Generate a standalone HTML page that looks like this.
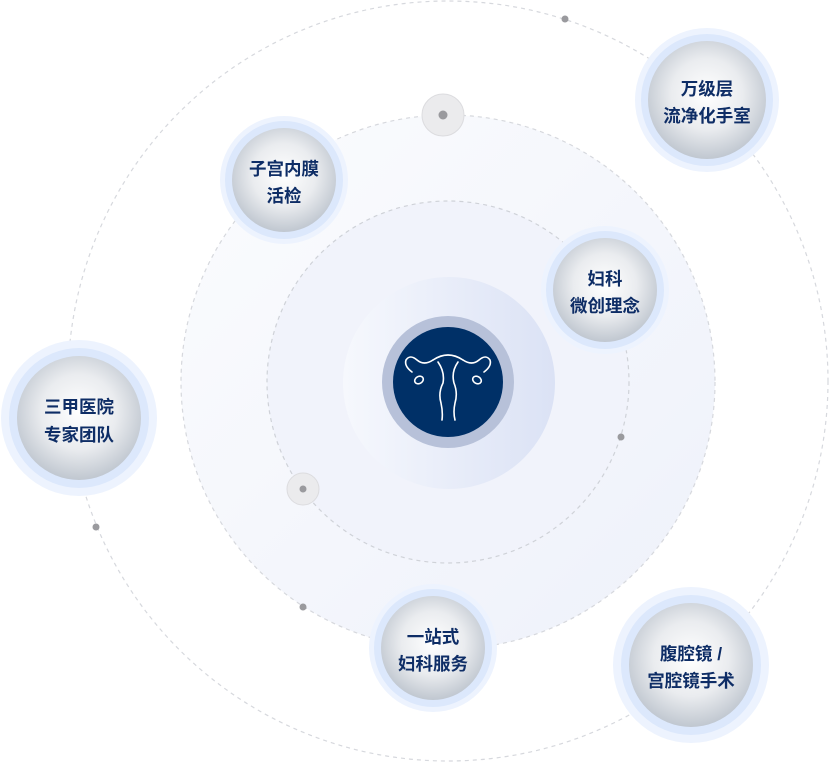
<!DOCTYPE html>
<html><head><meta charset="utf-8"><style>
html,body{margin:0;padding:0;background:#fff;width:831px;height:765px;overflow:hidden}
svg{display:block}
text{font-family:"Liberation Sans","Noto Sans CJK SC",sans-serif;font-weight:bold;font-size:17.5px;fill:#0e2d66;text-anchor:middle}
</style></head><body>
<svg width="831" height="765" viewBox="0 0 831 765">
<defs>
<radialGradient id="ball" cx="50%" cy="45%" r="55%">
<stop offset="0" stop-color="#ffffff"/><stop offset="0.55" stop-color="#eaecef"/><stop offset="1" stop-color="#c0c7d0"/>
</radialGradient>
<linearGradient id="glow" x1="0" x2="1" y1="0" y2="0">
<stop offset="0" stop-color="#f6f8fd"/><stop offset="1" stop-color="#dbe2f5"/>
</linearGradient>
<linearGradient id="mid" x1="0" x2="1" y1="0" y2="1">
<stop offset="0" stop-color="#fbfcfe"/><stop offset="1" stop-color="#eef1fa"/>
</linearGradient>
</defs>
<circle cx="448" cy="381" r="380" fill="none" stroke="#d6d8dd" stroke-width="1.2" stroke-dasharray="4 4"/>
<circle cx="448" cy="382" r="267" fill="url(#mid)" stroke="#d6d8dd" stroke-width="1.2" stroke-dasharray="4 4"/>
<circle cx="448" cy="382" r="181" fill="#f1f3fb" stroke="#cfd2d8" stroke-width="1.2" stroke-dasharray="4 4"/>
<circle cx="449" cy="383" r="106" fill="url(#glow)"/>
<circle cx="448" cy="382" r="66" fill="#b7c1d9"/>
<circle cx="448" cy="382" r="55" fill="#003067"/>
<g fill="none" stroke="#fff" stroke-width="1.6" stroke-linecap="round">
<path d="M433 360 Q448 350 463 360"/>
<path d="M433 360 Q424 366 417 360 Q410 354 406 360 Q404 366 412 372"/>
<path d="M463 360 Q472 366 479 360 Q486 354 490 360 Q492 366 484 372"/>
<ellipse cx="419" cy="380" rx="4.5" ry="3.5" transform="rotate(-30 419 380)"/>
<ellipse cx="477" cy="380" rx="4.5" ry="3.5" transform="rotate(30 477 380)"/>
<path d="M438 362 Q445 372 443 383 Q438 393 441 403 Q443 412 442 420"/>
<path d="M458 362 Q451 372 454 383 Q458 393 455 403 Q453 412 455 420"/>
</g>
<g fill="#ebebed" stroke="#dcdcdf"><circle cx="443" cy="115" r="21"/><circle cx="303" cy="489" r="16"/></g>
<g fill="#9a9a9e"><circle cx="443" cy="115" r="4.5"/><circle cx="303" cy="489" r="3.5"/>
<circle cx="565" cy="19" r="3.5"/><circle cx="621" cy="437" r="3.5"/><circle cx="96" cy="527" r="3.5"/><circle cx="303" cy="607" r="3.5"/></g>
<g>
<circle cx="284" cy="180" r="64" fill="#edf3fe"/><circle cx="284" cy="180" r="59" fill="#dce8fc"/><circle cx="284" cy="180" r="52" fill="url(#ball)"/>
<circle cx="707" cy="100" r="72" fill="#edf3fe"/><circle cx="707" cy="100" r="66" fill="#dce8fc"/><circle cx="707" cy="100" r="59" fill="url(#ball)"/>
<circle cx="605" cy="290" r="64" fill="#edf3fe"/><circle cx="605" cy="290" r="59" fill="#dce8fc"/><circle cx="605" cy="290" r="52" fill="url(#ball)"/>
<circle cx="79" cy="418" r="78" fill="#edf3fe"/><circle cx="79" cy="418" r="70" fill="#dce8fc"/><circle cx="79" cy="418" r="62" fill="url(#ball)"/>
<circle cx="433" cy="648" r="64" fill="#edf3fe"/><circle cx="433" cy="648" r="59" fill="#dce8fc"/><circle cx="433" cy="648" r="52" fill="url(#ball)"/>
<circle cx="691" cy="665" r="78" fill="#edf3fe"/><circle cx="691" cy="665" r="70" fill="#dce8fc"/><circle cx="691" cy="665" r="62" fill="url(#ball)"/>
</g>
<text x="284" y="175">子宫内膜</text><text x="284" y="202">活检</text>
<text x="707" y="95">万级层</text><text x="707" y="122">流净化手室</text>
<text x="605" y="285">妇科</text><text x="605" y="312">微创理念</text>
<text x="79" y="413">三甲医院</text><text x="79" y="441">专家团队</text>
<text x="433" y="643">一站式</text><text x="433" y="670">妇科服务</text>
<text x="691" y="660">腹腔镜 /</text><text x="691" y="687">宫腔镜手术</text>
</svg>
</body></html>
